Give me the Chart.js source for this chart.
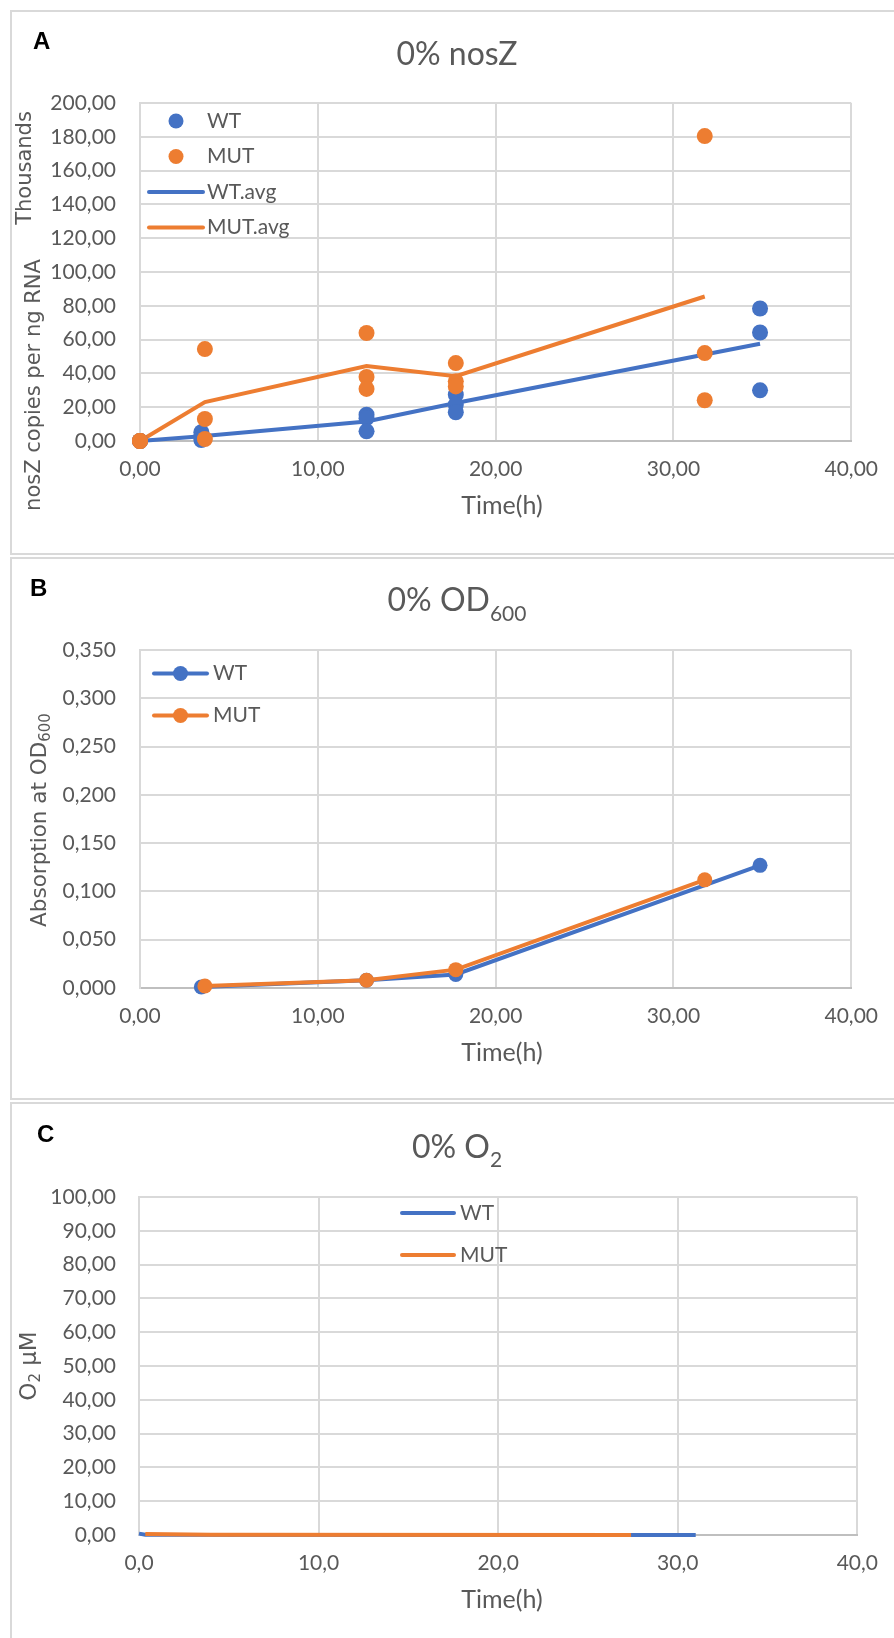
<!DOCTYPE html>
<html lang="es">
<head>
<meta charset="utf-8">
<title>0% nosZ, OD600 y O2</title>
<script src="https://cdn.jsdelivr.net/npm/chart.js@4.4.1/dist/chart.umd.min.js"></script>
<style>
    html, body { margin: 0; padding: 0; background: #fff; }
    body { width: 894px; height: 1638px; position: relative; overflow: hidden; }
    .marco { position: absolute; left: 10px; width: 900px; border: 2px solid #d9d9d9; box-sizing: border-box; }
    .lienzo { position: absolute; left: 0; width: 894px; }
</style>
</head>
<body>
<div class="marco" style="top:10px;height:545px"></div>
<div class="marco" style="top:557px;height:543px"></div>
<div class="marco" style="top:1102px;height:560px"></div>

<div class="lienzo" style="top:0px"><canvas id="graficoA" width="894" height="555"></canvas></div>
<div class="lienzo" style="top:555px"><canvas id="graficoB" width="894" height="545"></canvas></div>
<div class="lienzo" style="top:1100px"><canvas id="graficoC" width="894" height="538"></canvas></div>

<script>
// Datos

// Panel A: copias de nosZ por ng de ARN (tres réplicas y promedio)
const tiemposWT = [0.00, 3.45, 12.74, 17.76, 34.87];
const wtRep1 = [0, 5200, 15600, 27400, 78400];
const wtRep2 = [0, 2600, 13500, 21500, 64200];
const wtRep3 = [0, 600, 5700, 17000, 30000];
const wtPromedio = [0, 2800, 11600, 22500, 57500];

const tiemposMUT = [0.00, 3.65, 12.74, 17.76, 31.76];
const mutRep1 = [0, 54400, 63900, 46100, 180400];
const mutRep2 = [0, 13000, 37900, 35300, 52000];
const mutRep3 = [0, 1200, 30800, 32300, 24100];
const mutPromedio = [0, 23000, 44400, 38300, 85500];

// Panel B: absorción a OD600
const tiemposOdWT = [3.45, 12.74, 17.76, 34.87];
const odWT = [0.001, 0.008, 0.014, 0.127];
const tiemposOdMUT = [3.65, 12.74, 17.76, 31.76];
const odMUT = [0.002, 0.008, 0.019, 0.112];

// Panel C: O2 en µM
const tiemposO2WT = [0.0, 0.35, 31.0];
const o2WT = [0.4, 0.05, 0.0];
const tiemposO2MUT = [0.35, 4.0, 27.4];
const o2MUT = [0.3, 0.05, 0.0];

const azul = '#4472C4';
const naranja = '#ED7D31';
const gris = '#595959';
const rejilla = '#d9d9d9';

Chart.defaults.font.family = 'Lato';
Chart.defaults.font.size = 21;
Chart.defaults.color = gris;

// Número con coma decimal
const coma = (v, d) => Number(v).toFixed(d).replace('.', ',');

// Arma pares {x, y} a partir de los tiempos y una o más series
function puntos(tiempos, ...series) {
    return series.flatMap(s => tiempos.map((t, i) => ({ x: t, y: s[i] })));
}

// Dibuja un texto con partes (subíndices) centrado en cx
function textoCompuesto(ctx, partes, cx, cy) {
    let total = 0;
    partes.forEach(p => { ctx.font = p.f; p.w = ctx.measureText(p.t).width; total += p.w; });
    let x = cx - total / 2;
    partes.forEach(p => {
        ctx.font = p.f;
        ctx.fillText(p.t, x, cy + (p.dy || 0));
        x += p.w;
    });
}

// Plugin para letra del panel, título, títulos de ejes y leyenda
const textos = {
    id: 'textos',
    afterDraw(chart, args, o) {
        const ctx = chart.ctx;
        ctx.save();
        ctx.textAlign = 'left';

        // Letra del panel
        ctx.fillStyle = '#000';
        ctx.textBaseline = 'alphabetic';
        ctx.font = 'bold 24px "Liberation Sans"';
        ctx.fillText(o.letra.t, o.letra.x, o.letra.y);

        // Título
        ctx.fillStyle = gris;
        textoCompuesto(ctx, o.titulo.partes, 457, o.titulo.y);

        // Título eje x
        ctx.textBaseline = 'middle';
        ctx.font = '25px Lato';
        ctx.textAlign = 'center';
        ctx.fillText('Time(h)', 502, o.ejeX);
        ctx.textAlign = 'left';

        // Títulos eje y (rotados)
        o.ejeY.forEach(e => {
            ctx.save();
            ctx.translate(e.x, e.y);
            ctx.rotate(-Math.PI / 2);
            textoCompuesto(ctx, e.partes, 0, 0);
            ctx.restore();
        });

        // Leyenda
        const ley = o.leyenda;
        chart.data.datasets.forEach((ds, i) => {
            const y = ley.y + i * ley.paso;
            if (ley.tipos[i] !== 'punto') {
                ctx.strokeStyle = ds.borderColor;
                ctx.lineWidth = 4;
                ctx.lineCap = 'round';
                ctx.beginPath();
                ctx.moveTo(ley.x - ley.ancho / 2, y);
                ctx.lineTo(ley.x + ley.ancho / 2, y);
                ctx.stroke();
            }
            if (ley.tipos[i] !== 'linea') {
                ctx.fillStyle = ds.backgroundColor;
                ctx.beginPath();
                ctx.arc(ley.x, y, 7.5, 0, Math.PI * 2);
                ctx.fill();
            }
            ctx.fillStyle = gris;
            ctx.font = '21px Lato';
            ctx.fillText(ds.label, ley.textoX, y);
        });
        ctx.restore();
    }
};

// Opciones de ejes comunes
function ejes(cfg) {
    return {
        x: {
            type: 'linear', min: 0, max: 40,
            ticks: { stepSize: 10, padding: 16, color: gris, callback: v => coma(v, cfg.decX) },
            grid: { color: rejilla, lineWidth: 2, drawTicks: false },
            border: { color: '#bfbfbf', width: 2 },
            afterFit: s => { s.height = 50; }
        },
        y: {
            type: 'linear', min: 0, max: cfg.maxY,
            ticks: { stepSize: cfg.pasoY, padding: cfg.anchoY - 116, color: gris, callback: cfg.etiquetaY },
            grid: { color: rejilla, lineWidth: 2, drawTicks: false },
            border: { color: rejilla, width: 2 },
            afterFit: s => { s.width = cfg.anchoY; }
        }
    };
}

// Panel A
new Chart(document.getElementById('graficoA'), {
    type: 'scatter',
    data: {
        datasets: [
            { label: 'WT', data: puntos(tiemposWT, wtRep1, wtRep2, wtRep3), backgroundColor: azul, borderColor: azul, pointRadius: 8, pointBorderWidth: 0, showLine: false, order: 1, clip: false },
            { label: 'MUT', data: puntos(tiemposMUT, mutRep1, mutRep2, mutRep3), backgroundColor: naranja, borderColor: naranja, pointRadius: 8, pointBorderWidth: 0, showLine: false, order: 0, clip: false },
            { label: 'WT.avg', data: puntos(tiemposWT, wtPromedio), borderColor: azul, backgroundColor: azul, borderWidth: 4, pointRadius: 0, showLine: true, order: 3, clip: false },
            { label: 'MUT.avg', data: puntos(tiemposMUT, mutPromedio), borderColor: naranja, backgroundColor: naranja, borderWidth: 4, pointRadius: 0, showLine: true, order: 2, clip: false }
        ]
    },
    options: {
        responsive: false,
        animation: false,
        layout: { padding: { left: 0, right: 35, top: 103, bottom: 64 } },
        scales: ejes({ decX: 2, maxY: 200000, pasoY: 20000, anchoY: 140, etiquetaY: v => coma(v / 1000, 2) }),
        plugins: {
            legend: { display: false },
            tooltip: { enabled: false },
            textos: {
                letra: { t: 'A', x: 33, y: 49 },
                titulo: { y: 65, partes: [{ t: '0% nosZ', f: '32px Lato' }] },
                ejeX: 506,
                ejeY: [
                    { x: 26, y: 168, partes: [{ t: 'Thousands', f: '21px "DejaVu Sans"' }] },
                    { x: 35, y: 385, partes: [{ t: 'nosZ copies per ng RNA', f: '21px "DejaVu Sans"' }] }
                ],
                leyenda: { x: 176, ancho: 54, textoX: 207, y: 121, paso: 35.5, tipos: ['punto', 'punto', 'linea', 'linea'] }
            }
        }
    },
    plugins: [textos]
});

// Panel B
new Chart(document.getElementById('graficoB'), {
    type: 'scatter',
    data: {
        datasets: [
            { label: 'WT', data: puntos(tiemposOdWT, odWT), backgroundColor: azul, borderColor: azul, borderWidth: 4, pointRadius: 7.5, pointBorderWidth: 0, showLine: true, order: 1, clip: false },
            { label: 'MUT', data: puntos(tiemposOdMUT, odMUT), backgroundColor: naranja, borderColor: naranja, borderWidth: 4, pointRadius: 7.5, pointBorderWidth: 0, showLine: true, order: 0, clip: false }
        ]
    },
    options: {
        responsive: false,
        animation: false,
        layout: { padding: { left: 0, right: 35, top: 95, bottom: 62 } },
        scales: ejes({ decX: 2, maxY: 0.35, pasoY: 0.05, anchoY: 140, etiquetaY: v => coma(v, 3) }),
        plugins: {
            legend: { display: false },
            tooltip: { enabled: false },
            textos: {
                letra: { t: 'B', x: 30, y: 41 },
                titulo: { y: 56, partes: [{ t: '0% OD', f: '32px Lato' }, { t: '600', f: '21px Lato', dy: 10 }] },
                ejeX: 498,
                ejeY: [
                    { x: 40, y: 265, partes: [{ t: 'Absorption at OD', f: '21.5px "DejaVu Sans"' }, { t: '600', f: '15px "DejaVu Sans"', dy: 6 }] }
                ],
                leyenda: { x: 180.5, ancho: 53, textoX: 213, y: 118.5, paso: 42, tipos: ['lineaPunto', 'lineaPunto'] }
            }
        }
    },
    plugins: [textos]
});

// Panel C
new Chart(document.getElementById('graficoC'), {
    type: 'scatter',
    data: {
        datasets: [
            { label: 'WT', data: puntos(tiemposO2WT, o2WT), backgroundColor: azul, borderColor: azul, borderWidth: 4, pointRadius: 0, showLine: true, order: 1, clip: false },
            { label: 'MUT', data: puntos(tiemposO2MUT, o2MUT), backgroundColor: naranja, borderColor: naranja, borderWidth: 4, pointRadius: 0, showLine: true, order: 0, clip: false }
        ]
    },
    options: {
        responsive: false,
        animation: false,
        layout: { padding: { left: 0, right: 35, top: 97, bottom: 53 } },
        scales: ejes({ decX: 1, maxY: 100, pasoY: 10, anchoY: 139, etiquetaY: v => coma(v, 2) }),
        plugins: {
            legend: { display: false },
            tooltip: { enabled: false },
            textos: {
                letra: { t: 'C', x: 37, y: 42 },
                titulo: { y: 58, partes: [{ t: '0% O', f: '32px Lato' }, { t: '2', f: '21px Lato', dy: 9 }] },
                ejeX: 500,
                ejeY: [
                    { x: 30, y: 266, partes: [{ t: 'O', f: '23px "DejaVu Sans"' }, { t: '2', f: '15px "DejaVu Sans"', dy: 6 }, { t: ' µM', f: '23px "DejaVu Sans"' }] }
                ],
                leyenda: { x: 428, ancho: 52, textoX: 460, y: 113, paso: 42, tipos: ['linea', 'linea'] }
            }
        }
    },
    plugins: [textos]
});
</script>
</body>
</html>
